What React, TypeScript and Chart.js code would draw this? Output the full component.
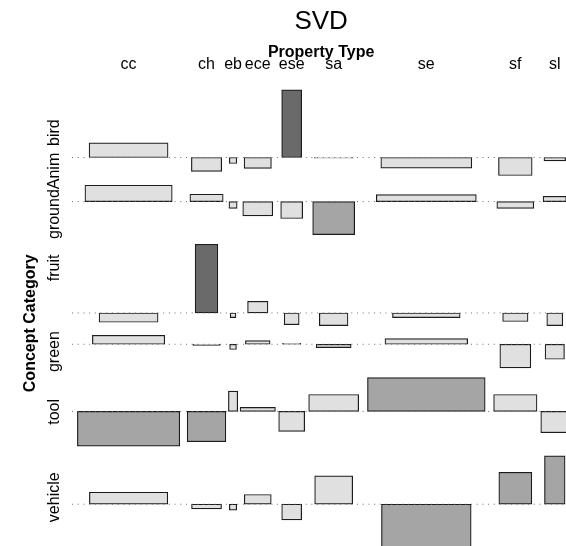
import React, { useEffect, useRef } from "react";
import { Chart, registerables } from "chart.js";

Chart.register(...registerables);

// ---------- data ----------
const chartTitle = "SVD";
const columnVariable = "Property Type";
const rowVariable = "Concept Category";

const propertyTypes = ["cc", "ch", "eb", "ece", "ese", "sa", "se", "sf", "sl"];
const conceptCategories = ["bird", "groundAnim", "fruit", "green", "tool", "vehicle"];

// sqrt(expected) per cell (bar widths), order follows propertyTypes
const birdWidths = [7.9, 3.03, 0.75, 2.73, 2.0, 3.87, 9.1, 3.37, 2.17];
const groundAnimWidths = [8.73, 3.33, 0.82, 3.0, 2.2, 4.2, 10.0, 3.7, 2.34];
const fruitWidths = [5.9, 2.27, 0.58, 2.04, 1.5, 2.87, 6.77, 2.54, 1.6];
const greenWidths = [7.24, 2.74, 0.68, 2.47, 1.83, 3.5, 8.27, 3.1, 1.94];
const toolWidths = [10.24, 3.87, 0.93, 3.54, 2.6, 5.0, 11.77, 4.34, 2.8];
const vehicleWidths = [7.84, 3.0, 0.74, 2.7, 2.0, 3.8, 8.97, 3.3, 2.06];

// Pearson residuals per cell (bar heights)
const birdResiduals = [0.97, -0.93, -0.4, -0.73, 4.51, -0.05, -0.71, -1.2, -0.23];
const groundAnimResiduals = [1.09, 0.49, -0.45, -0.95, -1.13, -2.2, 0.47, -0.45, 0.35];
const fruitResiduals = [-0.62, 4.58, -0.31, 0.78, -0.78, -0.84, -0.31, -0.57, -0.84];
const greenResiduals = [0.6, -0.07, -0.35, 0.25, 0.07, -0.22, 0.38, -1.58, -1.0];
const toolResiduals = [-2.31, -2.02, 1.35, 0.27, -1.33, 1.13, 2.25, 1.13, -1.42];
const vehicleResiduals = [0.8, -0.31, -0.4, 0.65, -1.05, 1.89, -3.5, 2.13, 3.23];

// shading thresholds on |residual|
const shadeCuts = [2, 4];

// ---------- layout / style ----------
const W = 566;
const H = 546;
const PAD_LEFT = 72;
const PAD_TOP = 85;
const X_PX = 10; // px per width unit
const Y_PX = 15; // px per residual unit
const COL_SPACE = 1.105;
const ROW_GAP = 0.647;
const FONT = '"Liberation Sans", Arial, Helvetica, sans-serif';
const shadeColors = ["#e0e0e0", "#a5a5a5", "#6a6a6a"];
const rowLabelNudge = [0, -14, -17, 0, 0, -9];

const widthRows = [birdWidths, groundAnimWidths, fruitWidths, greenWidths, toolWidths, vehicleWidths];
const residualRows = [
  birdResiduals,
  groundAnimResiduals,
  fruitResiduals,
  greenResiduals,
  toolResiduals,
  vehicleResiduals,
];

const colMax = propertyTypes.map((_, j) => Math.max(...widthRows.map((r) => r[j])));
const colCenter: number[] = [];
let accX = 0;
colMax.forEach((m) => {
  colCenter.push(accX + (m * COL_SPACE) / 2);
  accX += m * COL_SPACE;
});
const totalX = accX;

const rowBaseline: number[] = [];
const rowCenter: number[] = [];
let accY = 0;
residualRows.forEach((r) => {
  const pos = Math.max(0, ...r);
  const neg = Math.max(0, ...r.map((v) => -v));
  const h = pos + neg + ROW_GAP;
  rowBaseline.push(accY + ROW_GAP / 2 + pos);
  rowCenter.push(accY + h / 2);
  accY += h;
});
const totalY = accY;

function shade(res: number) {
  const a = Math.abs(res);
  if (a > shadeCuts[1]) return shadeColors[2];
  if (a > shadeCuts[0]) return shadeColors[1];
  return shadeColors[0];
}

const textPlugin = {
  id: "assocText",
  afterDraw(chart: any) {
    const ctx = chart.ctx;
    const xs = chart.scales.x;
    const ys = chart.scales.y;
    ctx.save();
    ctx.fillStyle = "#000";
    ctx.textAlign = "center";
    ctx.textBaseline = "alphabetic";
    const cx = xs.getPixelForValue(totalX / 2);
    ctx.font = `26px ${FONT}`;
    ctx.fillText(chartTitle, cx, 29);
    ctx.font = `bold 16px ${FONT}`;
    ctx.fillText(columnVariable, cx, 57);
    ctx.font = `16px ${FONT}`;
    propertyTypes.forEach((p, j) => {
      ctx.fillText(p, xs.getPixelForValue(colCenter[j]), 68.5);
    });
    ctx.textBaseline = "middle";
    conceptCategories.forEach((c, i) => {
      ctx.save();
      ctx.translate(55, ys.getPixelForValue(rowCenter[i]) + rowLabelNudge[i]);
      ctx.rotate(-Math.PI / 2);
      ctx.fillText(c, 0, 0);
      ctx.restore();
    });
    ctx.save();
    ctx.font = `bold 16px ${FONT}`;
    ctx.translate(31, ys.getPixelForValue(totalY / 2));
    ctx.rotate(-Math.PI / 2);
    ctx.fillText(rowVariable, 0, 0);
    ctx.restore();
    ctx.restore();
  },
};

export default function App() {
  const ref = useRef<HTMLCanvasElement | null>(null);
  useEffect(() => {
    document.body.style.margin = "0";
    const canvas = ref.current;
    if (!canvas) return;
    const datasets: any[] = [];
    conceptCategories.forEach((c, i) => {
      propertyTypes.forEach((p, j) => {
        const res = residualRows[i][j];
        const b = rowBaseline[i];
        datasets.push({
          type: "bar",
          label: `${c} / ${p}`,
          data: [{ x: colCenter[j], y: [b - res, b] }],
          barThickness: widthRows[i][j] * X_PX,
          grouped: false,
          backgroundColor: shade(res),
          borderColor: "#1c1c1c",
          borderWidth: 1.2,
          borderSkipped: false,
          order: 1,
        });
      });
    });
    conceptCategories.forEach((c, i) => {
      datasets.push({
        type: "line",
        label: `${c} baseline`,
        data: [
          { x: 0, y: rowBaseline[i] },
          { x: totalX, y: rowBaseline[i] },
        ],
        borderColor: "#6e6e6e",
        borderWidth: 1,
        borderDash: [1, 4.7],
        pointRadius: 0,
        fill: false,
        order: 0,
      });
    });
    const chart = new Chart(canvas, {
      type: "bar",
      data: { datasets },
      options: {
        animation: false,
        responsive: false,
        devicePixelRatio: 1,
        events: [],
        layout: { padding: { left: PAD_LEFT, top: PAD_TOP, right: 0, bottom: 0 } },
        plugins: {
          legend: { display: false },
          title: { display: false },
          tooltip: { enabled: false },
        },
        scales: {
          x: {
            type: "linear",
            display: false,
            min: 0,
            max: (W - PAD_LEFT) / X_PX,
            offset: false,
            grid: { offset: false },
          },
          y: {
            type: "linear",
            display: false,
            reverse: true,
            min: 0,
            max: (H - PAD_TOP) / Y_PX,
          },
        },
      } as any,
      plugins: [textPlugin],
    });
    return () => chart.destroy();
  }, []);
  return (
    <canvas
      ref={ref}
      width={W}
      height={H}
      style={{ display: "block", width: W, height: H, background: "#fff" }}
    />
  );
}
